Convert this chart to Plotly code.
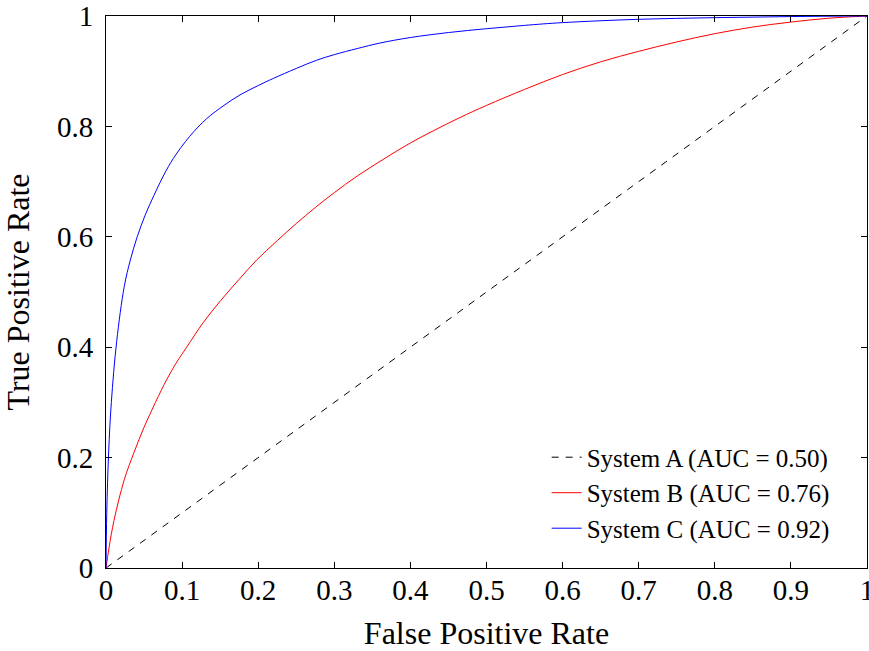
import plotly.graph_objects as go

# System A: chance diagonal
fpr_a = [0.0, 1.0]
tpr_a = [0.0, 1.0]

# System B (red)
fpr_b = [0.0, 0.004, 0.0105, 0.024, 0.037, 0.050, 0.065, 0.080, 0.093, 0.106, 0.128,
         0.151, 0.175, 0.198, 0.225, 0.250, 0.275, 0.300, 0.330, 0.364, 0.400, 0.430,
         0.465, 0.500, 0.550, 0.600, 0.650, 0.700, 0.750, 0.800, 0.850, 0.900, 0.950, 1.0]
tpr_b = [0.0, 0.037, 0.086, 0.160, 0.210, 0.255, 0.300, 0.342, 0.373, 0.400, 0.445,
         0.485, 0.523, 0.558, 0.593, 0.624, 0.653, 0.680, 0.710, 0.740, 0.770, 0.792,
         0.816, 0.838, 0.867, 0.894, 0.917, 0.936, 0.953, 0.968, 0.980, 0.989, 0.996, 1.0]

# System C (blue)
fpr_c = [0.0, 0.001, 0.0035, 0.007, 0.014, 0.024, 0.032, 0.041, 0.052, 0.063, 0.076,
         0.0885, 0.110, 0.1323, 0.155, 0.176, 0.200, 0.220, 0.250, 0.277, 0.300, 0.330,
         0.360, 0.400, 0.450, 0.500, 0.550, 0.600, 0.700, 0.800, 0.900, 1.0]
tpr_c = [0.0, 0.100, 0.210, 0.300, 0.410, 0.510, 0.558, 0.600, 0.641, 0.675, 0.712,
         0.742, 0.782, 0.814, 0.838, 0.857, 0.874, 0.887, 0.905, 0.920, 0.930, 0.941,
         0.951, 0.961, 0.970, 0.977, 0.983, 0.988, 0.994, 0.997, 0.999, 1.0]

names = ["System A (AUC = 0.50)", "System B (AUC = 0.76)", "System C (AUC = 0.92)"]

x_tickvals = [0, 0.1, 0.2, 0.3, 0.4, 0.5, 0.6, 0.7, 0.8, 0.9, 1]
x_ticktext = ["0", "0.1", "0.2", "0.3", "0.4", "0.5", "0.6", "0.7", "0.8", "0.9", "1"]
y_tickvals = [0, 0.2, 0.4, 0.6, 0.8, 1]
y_ticktext = ["0", "0.2", "0.4", "0.6", "0.8", "1"]

FONT = "Liberation Serif, serif"

fig = go.Figure()
fig.add_trace(go.Scatter(x=fpr_a, y=tpr_a, mode="lines", name=names[0],
                         line=dict(color="black", width=1, dash="7px,7px")))
fig.add_trace(go.Scatter(x=fpr_b, y=tpr_b, mode="lines", name=names[1],
                         line=dict(color="#ff0000", width=1, shape="spline", smoothing=1.0)))
fig.add_trace(go.Scatter(x=fpr_c, y=tpr_c, mode="lines", name=names[2],
                         line=dict(color="#0000ff", width=1, shape="spline", smoothing=1.0)))

axis_common = dict(showgrid=False, zeroline=False, showline=True, linecolor="black",
                   linewidth=1, mirror="ticks", ticks="inside", ticklen=6,
                   tickcolor="black", tickwidth=1, automargin=False,
                   ticklabeloverflow="allow",
                   tickfont=dict(family=FONT, size=29, color="black"))

fig.update_xaxes(range=[0, 1], tickvals=x_tickvals, ticktext=x_ticktext,
                 ticklabelstandoff=-4,
                 title=dict(text="False Positive Rate", font=dict(family=FONT, size=32, color="black"),
                            standoff=20),
                 **axis_common)
fig.update_yaxes(range=[0, 1], tickvals=y_tickvals, ticktext=y_ticktext,
                 ticklabelstandoff=6,
                 title=dict(text="True Positive Rate", font=dict(family=FONT, size=32, color="black"),
                            standoff=17),
                 **axis_common)

fig.update_layout(
    width=869, height=651,
    margin=dict(l=106, r=2, t=16, b=83),
    plot_bgcolor="white", paper_bgcolor="white",
    font=dict(family=FONT, color="black"),
    legend=dict(x=0.9575, y=0.030, xanchor="right", yanchor="bottom",
                bgcolor="rgba(255,255,255,0)", borderwidth=0,
                font=dict(family=FONT, size=25, color="black"),
                itemwidth=30, tracegroupgap=0),
    showlegend=True,
)

fig.write_html("out.html")
